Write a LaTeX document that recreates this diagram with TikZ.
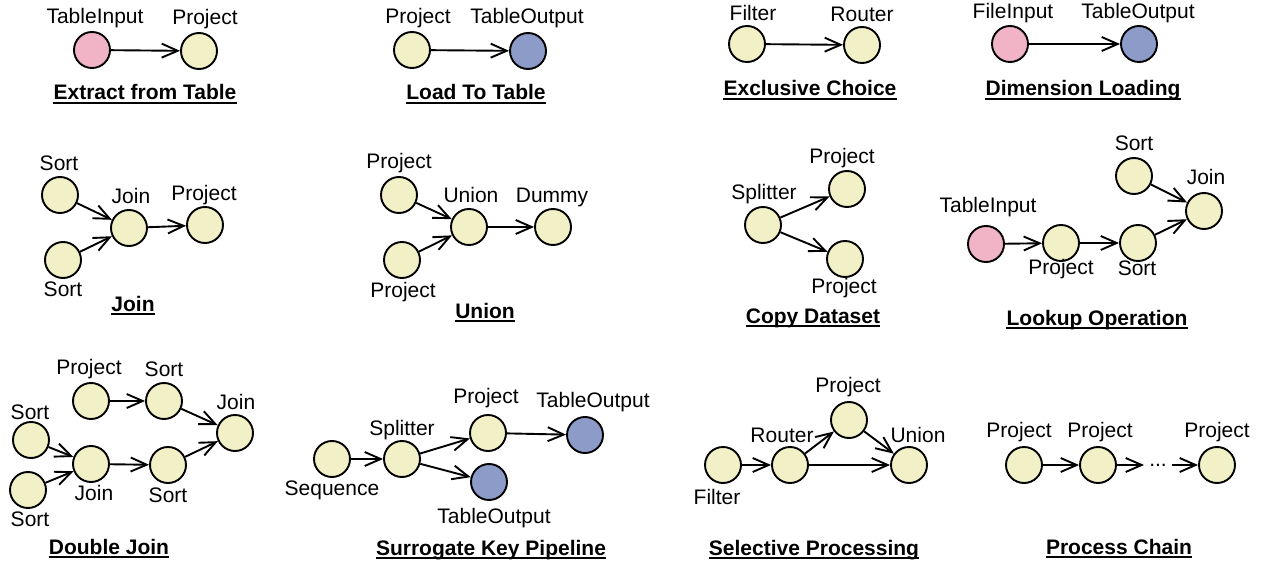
\documentclass[tikz,border=0pt]{standalone}
\usepackage{fontspec}
\setmainfont{Liberation Sans}
\usetikzlibrary{arrows.meta}
\definecolor{cy}{HTML}{F2F0C6}
\definecolor{cp}{HTML}{F1B4C7}
\definecolor{cb}{HTML}{8C9BC8}
\tikzset{
  op/.style={circle, draw, line width=1.9pt, minimum size=36pt, inner sep=0pt, fill=cy},
  inp/.style={op, fill=cp},
  outp/.style={op, fill=cb},
  lbl/.style={inner sep=0pt, font=\fontsize{21}{25}\selectfont},
  ttl/.style={inner sep=0pt, anchor=base, font=\fontsize{21}{25}\selectfont\bfseries},
  ul/.style={line width=1.9pt},
  arr/.style={line width=1.9pt, -{Straight Barb[length=16pt,width=14pt,line width=1.9pt]}},
  dotsnode/.style={inner xsep=5pt, inner ysep=0pt, font=\fontsize{21}{25}\selectfont}
}
\newcommand\uline[1]{\draw[ul] ([yshift=-3pt]#1.base west) -- ([yshift=-3pt]#1.base east);}
\begin{document}
\begin{tikzpicture}[x=1pt,y=-1pt]
\useasboundingbox (0,0) rectangle (1261,564);
% ---------- Extract from Table
\node[inp] (a1) at (92,50) {};
\node[op]  (a2) at (199,51) {};
\node[lbl] (a1l) at (95,18) {TableInput};
\node[lbl] (a2l) at (205,19) {Project};
\draw[arr] (a1) -- (a2);
\node[ttl] (ta) at (145,100) {Extract from Table}; \uline{ta}
% ---------- Load To Table
\node[op]   (b1) at (412,50) {};
\node[outp] (b2) at (528,51) {};
\node[lbl] (b1l) at (418,18) {Project};
\node[lbl] (b2l) at (527,18) {TableOutput};
\draw[arr] (b1) -- (b2);
\node[ttl] (tb) at (476,100) {Load To Table}; \uline{tb}
% ---------- Exclusive Choice
\node[op] (c1) at (747,44) {};
\node[op] (c2) at (862,45) {};
\node[lbl] (c1l) at (753,13) {Filter};
\node[lbl] (c2l) at (862,14) {Router};
\draw[arr] (c1) -- (c2);
\node[ttl] (tc) at (810,96) {Exclusive Choice}; \uline{tc}
% ---------- Dimension Loading
\node[inp]  (d1) at (1010,44) {};
\node[outp] (d2) at (1139,44) {};
\node[lbl] (d1l) at (1013,13) {FileInput};
\node[lbl] (d2l) at (1138,13) {TableOutput};
\draw[arr] (d1) -- (d2);
\node[ttl] (td) at (1083,96) {Dimension Loading}; \uline{td}
% ---------- Join
\node[op] (e1) at (60,195) {};
\node[op] (e2) at (63,260) {};
\node[op] (e3) at (129,228) {};
\node[op] (e4) at (205,225) {};
\node[lbl] (e1l) at (59,163) {Sort};
\node[lbl] (e2l) at (63,289) {Sort};
\node[lbl] (e3l) at (131,196) {Join};
\node[lbl] (e4l) at (204,195) {Project};
\draw[arr] (e1) -- (e3);
\draw[arr] (e2) -- (e3);
\draw[arr] (e3) -- (e4);
\node[ttl] (te) at (133,311) {Join}; \uline{te}
% ---------- Union
\node[op] (f1) at (399,195) {};
\node[op] (f2) at (402,260) {};
\node[op] (f3) at (469,227) {};
\node[op] (f4) at (553,227) {};
\node[lbl] (f1l) at (399,163) {Project};
\node[lbl] (f2l) at (403,292) {Project};
\node[lbl] (f3l) at (471,195) {Union};
\node[lbl] (f4l) at (552,197) {Dummy};
\draw[arr] (f1) -- (f3);
\draw[arr] (f2) -- (f3);
\draw[arr] (f3) -- (f4);
\node[ttl] (tf) at (485,318) {Union}; \uline{tf}
% ---------- Copy Dataset
\node[op] (g1) at (763,225) {};
\node[op] (g2) at (847,189) {};
\node[op] (g3) at (845,259) {};
\node[lbl] (g1l) at (764,194) {Splitter};
\node[lbl] (g2l) at (842,158) {Project};
\node[lbl] (g3l) at (844,288) {Project};
\draw[arr] (g1) -- (g2);
\draw[arr] (g1) -- (g3);
\node[ttl] (tg) at (813,323) {Copy Dataset}; \uline{tg}
% ---------- Lookup Operation
\node[inp] (h1) at (986,244) {};
\node[op]  (h2) at (1061,243) {};
\node[op]  (h3) at (1138,243) {};
\node[op]  (h4) at (1134,176) {};
\node[op]  (h5) at (1204,211) {};
\node[lbl] (h1l) at (988,207) {TableInput};
\node[lbl] (h2l) at (1061,269) {Project};
\node[lbl] (h3l) at (1137,268) {Sort};
\node[lbl] (h4l) at (1134,143) {Sort};
\node[lbl] (h5l) at (1206,177) {Join};
\draw[arr] (h1) -- (h2);
\draw[arr] (h2) -- (h3);
\draw[arr] (h3) -- (h5);
\draw[arr] (h4) -- (h5);
\node[ttl] (th) at (1097,325) {Lookup Operation}; \uline{th}
% ---------- Double Join
\node[op] (i1) at (91,401) {};
\node[op] (i2) at (164,401) {};
\node[op] (i3) at (31,440) {};
\node[op] (i4) at (28,490) {};
\node[op] (i5) at (91,464) {};
\node[op] (i6) at (168,465) {};
\node[op] (i7) at (235,433) {};
\node[lbl] (i1l) at (89,369) {Project};
\node[lbl] (i2l) at (164,369) {Sort};
\node[lbl] (i3l) at (30,412) {Sort};
\node[lbl] (i4l) at (30,519) {Sort};
\node[lbl] (i5l) at (94,493) {Join};
\node[lbl] (i6l) at (168,495) {Sort};
\node[lbl] (i7l) at (236,402) {Join};
\draw[arr] (i1) -- (i2);
\draw[arr] (i2) -- (i7);
\draw[arr] (i3) -- (i5);
\draw[arr] (i4) -- (i5);
\draw[arr] (i5) -- (i6);
\draw[arr] (i6) -- (i7);
\node[ttl] (ti) at (109,554) {Double Join}; \uline{ti}
% ---------- Surrogate Key Pipeline
\node[op]   (j1) at (332,459) {};
\node[op]   (j2) at (402,459) {};
\node[op]   (j3) at (488,433) {};
\node[outp] (j4) at (585,435) {};
\node[outp] (j5) at (489,482) {};
\node[lbl] (j1l) at (332,490) {Sequence};
\node[lbl] (j2l) at (402,430) {Splitter};
\node[lbl] (j3l) at (486,398) {Project};
\node[lbl] (j4l) at (593,402) {TableOutput};
\node[lbl] (j5l) at (494,518) {TableOutput};
\draw[arr] (j1) -- (j2);
\draw[arr] (j2) -- (j3);
\draw[arr] (j2) -- (j5);
\draw[arr] (j3) -- (j4);
\node[ttl] (tj) at (491,555) {Surrogate Key Pipeline}; \uline{tj}
% ---------- Selective Processing
\node[op] (k1) at (723,465) {};
\node[op] (k2) at (790,465) {};
\node[op] (k3) at (849,420) {};
\node[op] (k4) at (909,465) {};
\node[lbl] (k1l) at (717,497) {Filter};
\node[lbl] (k2l) at (782,435) {Router};
\node[lbl] (k3l) at (848,387) {Project};
\node[lbl] (k4l) at (918,435) {Union};
\draw[arr] (k1) -- (k2);
\draw[arr] (k2) -- (k3);
\draw[arr] (k3) -- (k4);
\draw[arr] (k2) -- (k4);
\node[ttl] (tk) at (814,555) {Selective Processing}; \uline{tk}
% ---------- Process Chain
\node[op] (l1) at (1024,465) {};
\node[op] (l2) at (1098,465) {};
\node[op] (l3) at (1217,465) {};
\node[dotsnode] (ld) at (1158,465) {...};
\node[lbl] (l1l) at (1019,432) {Project};
\node[lbl] (l2l) at (1100,432) {Project};
\node[lbl] (l3l) at (1217,432) {Project};
\draw[arr] (l1) -- (l2);
\draw[arr] (l2) -- (ld);
\draw[arr] (ld) -- (l3);
\node[ttl] (tl) at (1119,554) {Process Chain}; \uline{tl}
\end{tikzpicture}
\end{document}
